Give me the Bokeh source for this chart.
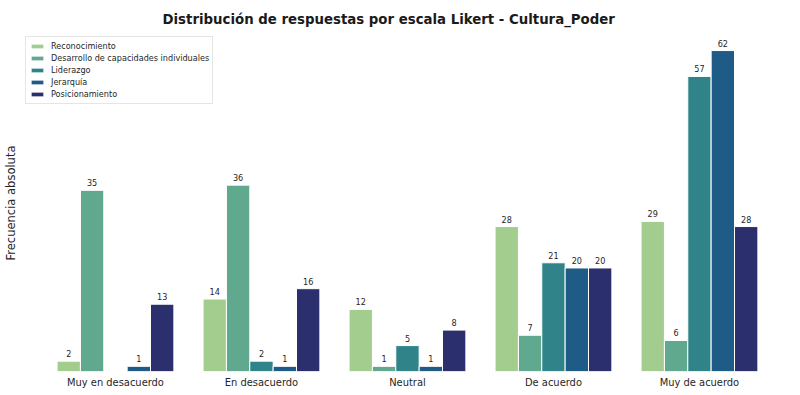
from bokeh.plotting import figure
from bokeh.models import ColumnDataSource, Range1d, FixedTicker, Legend, LegendItem
from bokeh.transform import dodge
from bokeh.core.properties import value
from bokeh.embed import file_html
from bokeh.resources import INLINE

categories = ["Muy en desacuerdo", "En desacuerdo", "Neutral", "De acuerdo", "Muy de acuerdo"]
series_names = ["Reconocimiento", "Desarrollo de capacidades individuales", "Liderazgo", "Jerarquía", "Posicionamiento"]
reconocimiento = [2, 14, 12, 28, 29]
desarrollo = [35, 36, 1, 7, 6]
liderazgo = [0, 2, 5, 21, 57]
jerarquia = [1, 1, 1, 20, 62]
posicionamiento = [13, 16, 8, 20, 28]
colors = ["#a3cd8e", "#60a98f", "#2f8389", "#1e5c87", "#2b2f6d"]

all_series = [reconocimiento, desarrollo, liderazgo, jerarquia, posicionamiento]
FONT = "DejaVu Sans Condensed"

W, H = 800, 395
p = figure(width=W, height=H, output_backend="svg", toolbar_location=None,
           x_range=Range1d(-0.671, 4.692), y_range=Range1d(0, 65.1),
           min_border_left=17, min_border_right=0, min_border_top=34, min_border_bottom=24)
p.outline_line_color = None
p.grid.grid_line_color = None
p.background_fill_color = "white"

p.title.text = "Distribución de respuestas por escala Likert - Cultura_Poder"
p.title.align = "left"
p.title.offset = 145
p.title.text_font = FONT
p.title.text_font_style = "bold"
p.title.text_font_size = "14.8px"
p.title.text_color = "#1a1a1a"
p.title.standoff = 12
p.title.vertical_align = "top"

bw = 0.8 / len(all_series)
items = []
for j, (name, vals, col) in enumerate(zip(series_names, all_series, colors)):
    off = (j - (len(all_series) - 1) / 2) * bw
    src = ColumnDataSource(dict(x=list(range(len(categories))), y=vals))
    r = p.vbar(x=dodge("x", off, range=p.x_range), top="y", width=bw, source=src,
               fill_color=col, line_color="white", line_width=1)
    items.append(LegendItem(label=name, renderers=[r]))
    lx = [i for i, v in enumerate(vals) if v > 0]
    ly = [v for v in vals if v > 0]
    lsrc = ColumnDataSource(dict(x=lx, y=ly, t=[str(v) for v in ly]))
    p.text(x=dodge("x", off, range=p.x_range), y="y", text="t", source=lsrc,
           text_align="center", text_baseline="bottom", y_offset=-4,
           text_font_size="9px", text_color="#262626", text_font=value(FONT))

p.xaxis.ticker = FixedTicker(ticks=list(range(len(categories))))
p.xaxis.major_label_overrides = {i: c for i, c in enumerate(categories)}
p.xaxis.major_tick_line_color = None
p.xaxis.minor_tick_line_color = None
p.xaxis.major_tick_out = 0
p.xaxis.major_tick_in = 0
p.xaxis.minor_tick_out = 0
p.xaxis.axis_line_color = None
p.xaxis.major_label_standoff = 4
p.xaxis.major_label_text_font = FONT
p.xaxis.major_label_text_font_size = "11px"
p.xaxis.major_label_text_color = "#262626"

p.yaxis.ticker = FixedTicker(ticks=[])
p.yaxis.axis_line_color = None
p.yaxis.major_tick_line_color = None
p.yaxis.minor_tick_line_color = None
p.yaxis.major_tick_out = 0
p.yaxis.minor_tick_out = 0
p.yaxis.major_label_standoff = 0
p.yaxis.axis_label = "Frecuencia absoluta"
p.yaxis.axis_label_standoff = 0
p.yaxis.axis_label_text_font = "DejaVu Sans"
p.yaxis.axis_label_text_font_size = "11.5px"
p.yaxis.axis_label_text_font_style = "normal"
p.yaxis.axis_label_text_color = "#262626"

legend = Legend(items=items, location=(8, 267), margin=0)
legend.padding = 3
legend.spacing = 0
legend.label_height = 12
legend.glyph_height = 6
legend.glyph_width = 16
legend.label_standoff = 6
legend.label_text_font = FONT
legend.label_text_font_size = "9px"
legend.label_text_color = "#262626"
legend.border_line_color = "#cccccc"
legend.border_line_width = 1
legend.background_fill_alpha = 0.8
p.add_layout(legend)

open("out.html", "w").write(file_html(p, INLINE))
